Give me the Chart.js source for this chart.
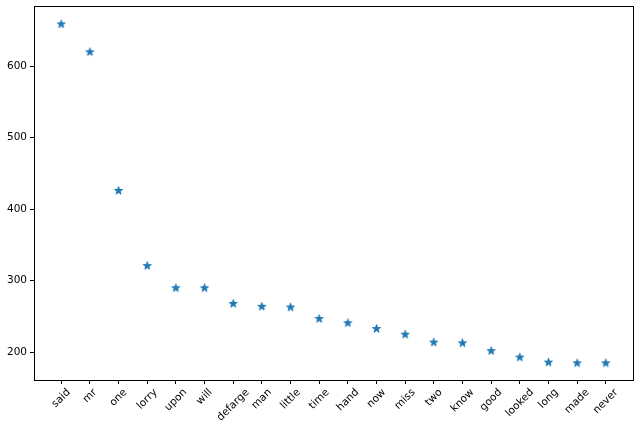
<!DOCTYPE html>
<html>
<head>
<meta charset="utf-8">
<script src="https://cdn.jsdelivr.net/npm/chart.js@4"></script>
<style>
    html, body { margin: 0; padding: 0; background: #fff; }
    #wrap { width: 640px; height: 431px; position: relative; }
</style>
</head>
<body>
<div id="wrap"><canvas id="chart"></canvas></div>
<script>
const words = ['said', 'mr', 'one', 'lorry', 'upon', 'will', 'defarge', 'man', 'little', 'time',
    'hand', 'now', 'miss', 'two', 'know', 'good', 'looked', 'long', 'made', 'never'];
const counts = [659, 620, 426, 321, 290, 290, 268, 264, 263, 247,
    241, 233, 225, 214, 213, 202, 193, 186, 185, 185];
const yTicks = [200, 300, 400, 500, 600];

const blue = '#1f77b4';
const font = '"DejaVu Sans", sans-serif';
const fontSize = 10.5;

// filled five-point star, like matplotlib's '*' marker
function makeStar() {
    const c = document.createElement('canvas');
    c.width = 11; c.height = 11;
    const g = c.getContext('2d');
    const R = 4.2, r = R * 0.382;
    g.beginPath();
    for (let k = 0; k < 10; k++) {
        const rad = k % 2 ? r : R;
        const a = -Math.PI / 2 + k * Math.PI / 5;
        const px = 5.5 + rad * Math.cos(a), py = 5.8 + rad * Math.sin(a);
        k ? g.lineTo(px, py) : g.moveTo(px, py);
    }
    g.closePath();
    g.fillStyle = blue;
    g.strokeStyle = blue;
    g.lineWidth = 1;
    g.fill();
    g.stroke();
    return c;
}

// keep the plot box where the reference has it
const box = {
    id: 'box',
    afterLayout(chart) {
        const a = chart.chartArea;
        a.left = 34; a.right = 633; a.top = 6; a.bottom = 380;
        a.width = a.right - a.left; a.height = a.bottom - a.top;
        const {x, y} = chart.scales;
        x.left = a.left; x.right = a.right; x.width = a.width;
        x.top = a.bottom; x.bottom = 431; x.height = 431 - a.bottom;
        y.top = a.top; y.bottom = a.bottom; y.height = a.height;
        y.left = 0; y.right = a.left; y.width = a.left;
        x.configure(); y.configure();
    },
    afterDraw(chart) {
        const {ctx, chartArea: a} = chart;
        ctx.save();
        ctx.strokeStyle = '#000';
        ctx.lineWidth = 1;
        ctx.strokeRect(a.left + 0.5, a.top + 0.5, a.right - a.left, a.bottom - a.top);

        // rotated tick labels centred under each tick
        const x = chart.scales.x;
        ctx.font = fontSize + 'px ' + font;
        ctx.fillStyle = '#000';
        ctx.textAlign = 'center';
        ctx.textBaseline = 'middle';
        words.forEach((w, i) => {
            const px = x.getPixelForValue(i);
            const tw = ctx.measureText(w).width;
            const half = (tw + fontSize) * Math.SQRT1_2 / 2;
            ctx.save();
            ctx.translate(px, a.bottom + 7 + half);
            ctx.rotate(-Math.PI / 4);
            ctx.fillText(w, 0, 0);
            ctx.restore();
        });
        ctx.restore();
    }
};

new Chart(document.getElementById('chart'), {
    type: 'scatter',
    data: {
        datasets: [{
            data: counts.map((v, i) => ({x: i, y: v})),
            pointStyle: makeStar(),
            pointRadius: 5,
            pointHoverRadius: 5
        }]
    },
    options: {
        responsive: true,
        maintainAspectRatio: false,
        animation: false,
        events: [],
        plugins: { legend: { display: false }, tooltip: { enabled: false } },
        scales: {
            x: {
                type: 'linear',
                min: -0.95,
                max: words.length - 1 + 0.95,
                afterBuildTicks: s => { s.ticks = words.map((_, i) => ({value: i})); },
                ticks: { display: false },
                border: { display: false },
                grid: { drawOnChartArea: false, drawTicks: true, tickLength: 4, tickColor: '#000', tickWidth: 1 }
            },
            y: {
                min: 161,
                max: 684,
                afterBuildTicks: s => { s.ticks = yTicks.map(v => ({value: v})); },
                ticks: { color: '#000', padding: 3, font: { family: font, size: fontSize } },
                border: { display: false },
                grid: { drawOnChartArea: false, drawTicks: true, tickLength: 4, tickColor: '#000', tickWidth: 1 }
            }
        }
    },
    plugins: [box]
});
</script>
</body>
</html>
